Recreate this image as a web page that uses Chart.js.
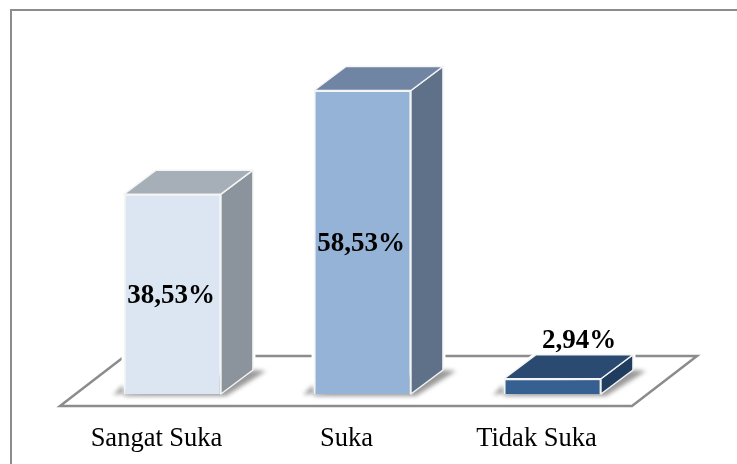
<!DOCTYPE html>
<html>
<head>
<meta charset="utf-8">
<style>
  html, body { margin: 0; padding: 0; background: #fff; }
  #wrap { position: relative; width: 737px; height: 464px; }
</style>
<script src="https://cdn.jsdelivr.net/npm/chart.js@4"></script>
</head>
<body>
<div id="wrap"><canvas id="chart" width="737" height="464"></canvas></div>
<script>
const categories = ['Sangat Suka', 'Suka', 'Tidak Suka'];
const values = [38.53, 58.53, 2.94];
const valueLabels = ['38,53%', '58,53%', '2,94%'];
const frontColors = ['#dce6f2', '#95b3d7', '#376092'];
const topColors = ['#a6afb8', '#7085a3', '#2a4a72'];
const sideColors = ['#8b949c', '#5f7089', '#203c5f'];

const depthX = 32, depthY = 24;

function poly(ctx, pts) {
    ctx.beginPath();
    pts.forEach((p, i) => i ? ctx.lineTo(p[0], p[1]) : ctx.moveTo(p[0], p[1]));
    ctx.closePath();
}

const box3d = {
    id: 'box3d',
    beforeDraw(chart) {
        const ctx = chart.ctx, a = chart.chartArea;
        ctx.save();
        // outer frame, only top and left are in the picture
        ctx.strokeStyle = '#8c8c8c';
        ctx.lineWidth = 2;
        ctx.beginPath();
        ctx.moveTo(11, chart.height);
        ctx.lineTo(11, 10);
        ctx.lineTo(chart.width, 10);
        ctx.stroke();
        // floor
        const fy = a.bottom + 12, by = a.bottom - 38;
        poly(ctx, [[a.left - 17.5, fy], [a.right - 15.5, fy], [a.right + 49.5, by], [a.left + 47.5, by]]);
        ctx.lineWidth = 2.5;
        ctx.stroke();
        ctx.restore();
    },
    beforeDatasetsDraw(chart) {
        const ctx = chart.ctx;
        chart.getDatasetMeta(0).data.forEach(bar => {
            const l = bar.x - bar.width / 2, r = bar.x + bar.width / 2, t = bar.y, b = bar.base;
            ctx.save();
            // white halo clears the floor line next to the box
            ctx.fillStyle = '#fff';
            ctx.strokeStyle = '#fff';
            ctx.lineWidth = 5;
            poly(ctx, [[l, b], [l, t], [l + depthX, t - depthY], [r + depthX, t - depthY], [r + depthX, b - depthY], [r, b]]);
            ctx.fill();
            ctx.stroke();
            // soft shadow on the floor
            ctx.filter = 'blur(2px)';
            ctx.fillStyle = '#9a9a9a';
            poly(ctx, [[l - 11, b + 1], [l - 1, b - 9], [l, b + 2], [r + 5, b + 2], [r + depthX + 13, b - depthY + 1], [r + depthX, b - depthY]]);
            ctx.fill();
            ctx.restore();
        });
    },
    afterDatasetsDraw(chart) {
        const ctx = chart.ctx;
        chart.getDatasetMeta(0).data.forEach((bar, i) => {
            const l = bar.x - bar.width / 2, r = bar.x + bar.width / 2, t = bar.y, b = bar.base;
            ctx.save();
            ctx.strokeStyle = '#f4f4f4';
            ctx.lineWidth = 1.5;
            ctx.lineJoin = 'round';
            ctx.fillStyle = sideColors[i];
            poly(ctx, [[r, t], [r + depthX, t - depthY], [r + depthX, b - depthY], [r, b]]);
            ctx.fill();
            ctx.stroke();
            ctx.fillStyle = topColors[i];
            poly(ctx, [[l, t], [l + depthX, t - depthY], [r + depthX, t - depthY], [r, t]]);
            ctx.fill();
            ctx.stroke();
            // value labels: inside the tall bars, above the flat one
            ctx.fillStyle = '#000';
            ctx.font = 'bold 27px "Liberation Serif"';
            ctx.textAlign = 'center';
            ctx.textBaseline = 'middle';
            if (values[i] > 10) {
                ctx.fillText(valueLabels[i], bar.x - 1.5, (t + b) / 2 + 1.5);
            } else {
                ctx.fillText(valueLabels[i], bar.x + 26.5, t - 37.5);
            }
            ctx.restore();
        });
    }
};

new Chart(document.getElementById('chart'), {
    type: 'bar',
    data: {
        labels: categories,
        datasets: [{
            data: values,
            backgroundColor: frontColors,
            borderColor: '#f4f4f4',
            borderWidth: 1.5,
            barPercentage: 0.51,
            categoryPercentage: 1
        }]
    },
    options: {
        responsive: false,
        animation: false,
        layout: { padding: { left: 77.5, right: 89.5, top: 41.4, bottom: 0 } },
        plugins: { legend: { display: false }, tooltip: { enabled: false } },
        scales: {
            x: {
                grid: { display: false },
                border: { display: false },
                afterFit(scale) { scale.height = 70; },
                ticks: {
                    color: '#000',
                    labelOffset: -16,
                    padding: 21,
                    maxRotation: 0,
                    font: { family: '"Liberation Serif"', size: 26.5 }
                }
            },
            y: { display: false, min: 0, max: 68 }
        }
    },
    plugins: [box3d]
});
</script>
</body>
</html>
